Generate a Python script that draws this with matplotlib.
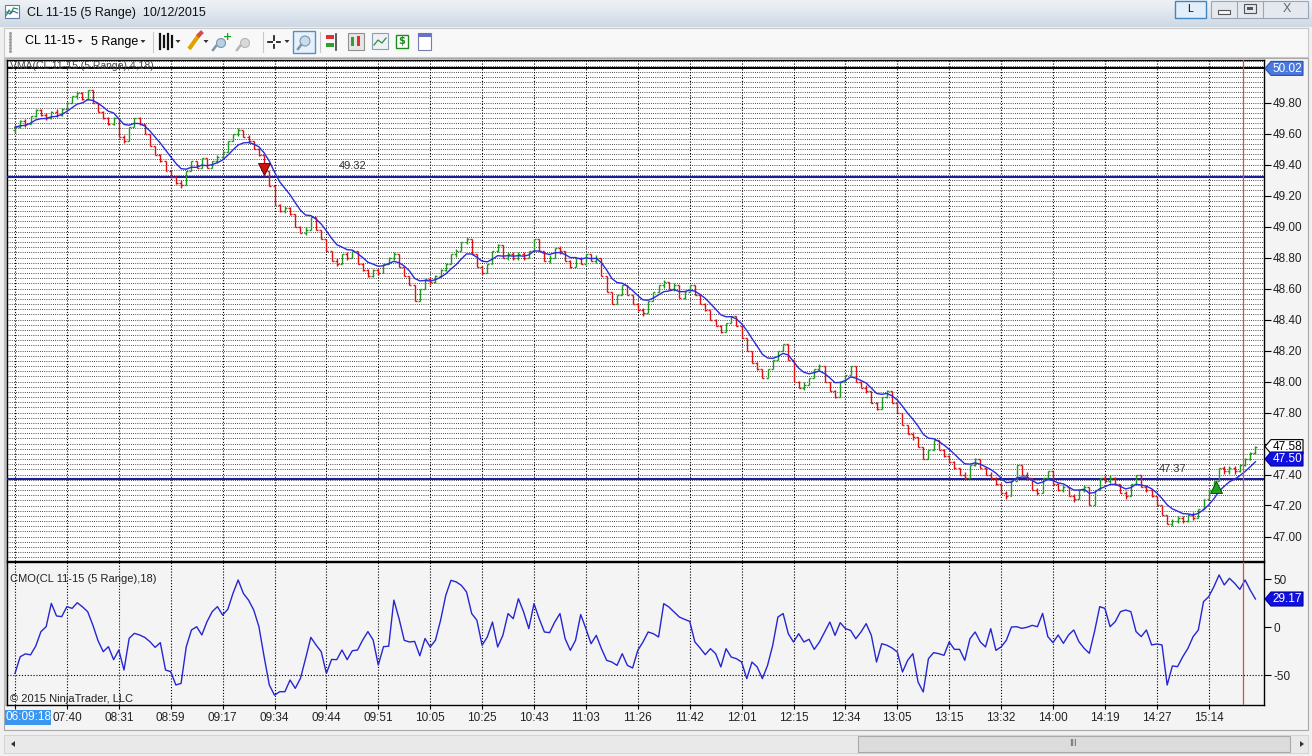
import numpy as np
import pandas as pd
import matplotlib
matplotlib.use("Agg")
import matplotlib.pyplot as plt
from matplotlib.patches import Rectangle, Polygon
from matplotlib.collections import LineCollection
from matplotlib.colors import LinearSegmentedColormap

# ---------------- data ----------------
closes = [
    49.64, 49.68, 49.66, 49.71, 49.75, 49.72, 49.70, 49.74, 49.72, 49.76,
    49.80, 49.84, 49.86, 49.82, 49.88, 49.80, 49.74, 49.70, 49.66, 49.70,
    49.58, 49.55, 49.64, 49.70, 49.66, 49.60, 49.52, 49.46, 49.42, 49.36,
    49.32, 49.28, 49.27, 49.36, 49.42, 49.38, 49.44, 49.38, 49.42, 49.45,
    49.48, 49.55, 49.60, 49.62, 49.58, 49.55, 49.50, 49.46, 49.36, 49.26,
    49.14, 49.10, 49.12, 49.08, 49.00, 48.96, 48.98, 49.06, 48.98, 48.92,
    48.84, 48.78, 48.76, 48.82, 48.80, 48.84, 48.76, 48.72, 48.68, 48.72,
    48.70, 48.76, 48.80, 48.82, 48.74, 48.68, 48.62, 48.52, 48.60, 48.66,
    48.64, 48.68, 48.72, 48.76, 48.82, 48.84, 48.90, 48.92, 48.82, 48.74,
    48.70, 48.76, 48.84, 48.88, 48.80, 48.82, 48.80, 48.82, 48.80, 48.84,
    48.92, 48.84, 48.78, 48.80, 48.86, 48.84, 48.78, 48.74, 48.80, 48.76,
    48.82, 48.78, 48.80, 48.68, 48.58, 48.50, 48.56, 48.62, 48.56, 48.50,
    48.46, 48.44, 48.52, 48.58, 48.62, 48.64, 48.60, 48.62, 48.54, 48.58,
    48.62, 48.56, 48.50, 48.46, 48.40, 48.36, 48.32, 48.38, 48.42, 48.36,
    48.28, 48.20, 48.12, 48.08, 48.02, 48.08, 48.14, 48.20, 48.24, 48.14,
    48.00, 47.96, 47.98, 48.02, 48.08, 48.10, 48.00, 47.94, 47.90, 48.00,
    48.04, 48.10, 48.00, 47.96, 47.94, 47.86, 47.82, 47.90, 47.94, 47.86,
    47.80, 47.72, 47.66, 47.64, 47.58, 47.50, 47.56, 47.62, 47.56, 47.52,
    47.48, 47.44, 47.40, 47.38, 47.46, 47.50, 47.44, 47.40, 47.38, 47.34,
    47.28, 47.26, 47.36, 47.46, 47.40, 47.38, 47.30, 47.28, 47.38, 47.42,
    47.34, 47.30, 47.32, 47.26, 47.24, 47.30, 47.32, 47.20, 47.30, 47.38,
    47.36, 47.38, 47.34, 47.28, 47.26, 47.34, 47.40, 47.32, 47.30, 47.26,
    47.20, 47.14, 47.08, 47.10, 47.12, 47.10, 47.14, 47.12, 47.18, 47.24,
    47.30, 47.36, 47.44, 47.42, 47.44, 47.42, 47.46, 47.50, 47.54, 47.58,
]
first_open = 49.62

cmo = [
    -48.3, -31.0, -28.0, -29.0, -19.8, -4.8, 0.3, 24.6, 11.5, 10.8,
    21.2, 19.4, 25.3, 21.0, 16.0, 2.0, -14.2, -25.7, -20.5, -34.0,
    -24.0, -44.8, -11.8, -6.6, -8.3, -10.8, -15.3, -21.2, -16.3, -44.8,
    -46.5, -60.4, -58.7, -20.5, -3.1, 0.3, -8.3, 5.6, 16.0, 21.2,
    12.5, 18.4, 35.0, 49.0, 35.0, 28.0, 17.7, 0.3, -31.0, -60.4,
    -71.0, -67.4, -67.4, -55.2, -63.9, -53.5, -32.6, -10.8, -18.7, -25.7,
    -48.3, -33.8, -34.0, -24.0, -34.0, -24.7, -24.0, -13.5, -4.8, -13.5,
    -39.6, -20.5, -20.0, 28.0, 8.7, -13.9, -15.6, -15.0, -30.0, -12.0,
    -20.8, -13.9, 7.0, 33.0, 48.6, 47.0, 43.4, 36.5, 14.0, 7.0,
    -19.0, -10.4, 5.2, -20.8, -8.7, 14.0, 8.7, 29.5, 15.6, -1.7,
    24.3, 8.7, -5.2, -5.9, 5.2, 14.0, -12.2, -24.3, -13.9, 13.0,
    -1.7, -17.4, -8.7, -22.6, -34.7, -36.5, -40.0, -27.8, -40.0, -42.7,
    -24.3, -15.6, -5.2, -7.0, -10.4, 24.3, 20.8, 15.6, 10.4, 8.0,
    5.9, -15.6, -21.9, -28.8, -22.6, -27.8, -41.6, -22.6, -31.3, -33.0,
    -36.5, -53.8, -36.5, -41.6, -53.8, -40.0, -19.0, 10.4, 14.0, -7.0,
    -15.6, -7.0, -15.6, -12.8, -23.3, -15.6, -5.2, 5.2, -8.7, 4.5,
    -1.7, -3.5, -12.2, -5.2, 3.5, -8.7, -36.5, -17.4, -19.0, -21.9,
    -26.0, -46.9, -34.7, -27.8, -57.3, -67.7, -33.0, -26.7, -27.8, -29.5,
    -15.6, -23.3, -23.3, -34.7, -12.2, -5.2, -15.6, -20.8, -1.7, -24.3,
    -20.8, -13.9, 0.0, 0.3, -1.4, -0.3, 1.7, 0.3, 14.2, -10.0,
    -16.3, -8.3, -17.0, -8.3, -3.1, -15.3, -22.2, -27.4, -4.8, 21.2,
    19.4, 0.3, 5.6, 16.0, 17.7, 16.0, -4.8, -10.0, -3.1, -18.7,
    -17.7, -18.7, -60.4, -40.6, -41.3, -31.0, -22.2, -10.0, -3.1, 26.4,
    31.6, 42.0, 54.2, 43.8, 50.7, 45.5, 39.2, 49.0, 38.5, 29.17,
]

time_labels = ["06:09:18", "07:40", "08:31", "08:59", "09:17", "09:34", "09:44",
               "09:51", "10:05", "10:25", "10:43", "11:03", "11:26", "11:42",
               "12:01", "12:15", "12:34", "13:05", "13:15", "13:32", "14:00",
               "14:19", "14:27", "15:14"]
label_step = 10
price_ticks = [47.00, 47.20, 47.40, 47.60, 47.80, 48.00, 48.20, 48.40,
               48.60, 48.80, 49.00, 49.20, 49.40, 49.60, 49.80]
cmo_ticks = [50, 0, -50]
hline_levels = [49.32, 47.37]
top_level = 50.02
last_price = 47.58
vma_last = 47.50
cmo_last = 29.17
down_signal = (48, 49.37)
up_signal = (231.5, 47.32)
cursor_bar = 236.6

# ---------------- layout helpers ----------------
W, H = 1312, 756
FONT = "Liberation Sans"
UI = "Liberation Sans"
BAR_PX = 5.19
X0 = 15.0

fig = plt.figure(figsize=(W / 100, H / 100), dpi=100)
fig.patch.set_facecolor("#f0f0f0")

scr = fig.add_axes([0, 0, 1, 1], label="screen")
scr.set_zorder(0)
scr.axis("off")

# title bar gradient
cm_title = LinearSegmentedColormap.from_list("tb", ["#eef2f7", "#cfd9e4"])
scr.imshow(np.linspace(0, 1, 40)[:, None], cmap=cm_title, extent=(0, W, 27, 0),
           aspect="auto", zorder=0)
scr.set_xlim(0, W)
scr.set_ylim(H, 0)

# title icon
scr.add_patch(Rectangle((5, 5), 14, 13, fc="#ffffff", ec="#5a7fa8", lw=0.8, zorder=2))
scr.plot([6.5, 9, 11, 13.5, 17.5], [15, 10, 13, 8, 9], color="#2e8b57", lw=0.9, zorder=3)
scr.plot([6.5, 10, 13, 17.5], [12, 14, 11, 13], color="#3060c0", lw=0.8, zorder=3)
scr.text(27, 13, "CL 11-15 (5 Range)  10/12/2015", fontsize=9, family=UI,
         va="center", ha="left", color="#111111", zorder=3)

# window buttons
scr.add_patch(Rectangle((1175, 1), 31, 17, fc="#e2effa", ec="#3f86c2", lw=1.0, zorder=2))
scr.text(1190.5, 9.5, "L", fontsize=7.5, family=UI, ha="center", va="center", zorder=3)
scr.add_patch(Rectangle((1211, 1), 97, 17, fc="#e4e9ef", ec="#9aa6b3", lw=0.8, zorder=2))
scr.plot([1237, 1237], [1, 18], color="#9aa6b3", lw=0.8, zorder=3)
scr.plot([1263, 1263], [1, 18], color="#9aa6b3", lw=0.8, zorder=3)
scr.add_patch(Rectangle((1218, 10), 12, 4, fc="#f6f6f6", ec="#555555", lw=0.8, zorder=3))
scr.add_patch(Rectangle((1244, 4), 12, 9, fc="none", ec="#555555", lw=0.8, zorder=3))
scr.add_patch(Rectangle((1247, 7), 6, 3, fc="#555555", ec="none", zorder=3))
scr.text(1287, 9.5, "X", fontsize=9, family=UI, ha="center", va="center",
         color="#666666", zorder=3)

# toolbar
scr.add_patch(Rectangle((4, 28), 1304, 29, fc="#f8f8f8", ec="#c9c9c9", lw=0.8, zorder=1))
for yy in range(33, 53, 3):
    scr.plot([10], [yy], marker="s", ms=1, color="#9a9a9a", zorder=3)
scr.text(25, 41.5, "CL 11-15", fontsize=9, family=UI, va="center", zorder=3)
scr.text(91, 41.5, "5 Range", fontsize=9, family=UI, va="center", zorder=3)


def caret(x, y):
    scr.add_patch(Polygon([(x - 2.5, y - 1.5), (x + 2.5, y - 1.5), (x, y + 1.5)],
                          closed=True, fc="#333333", ec="none", zorder=3))


caret(80, 41.5)
caret(143, 41.5)
for sx in (153, 263, 320):
    scr.plot([sx, sx], [32, 52], color="#c8c8c8", lw=0.8, zorder=3)
# bar-type icon
for k, xx in enumerate([160, 164, 168, 172]):
    scr.plot([xx, xx], [34 + (k % 2) * 2, 49 - (k % 2) * 2], color="#111111", lw=1.6, zorder=3)
caret(178, 41.5)
# pencil
scr.plot([189, 199], [49, 35], color="#e0a400", lw=3.0, zorder=3, solid_capstyle="butt")
scr.plot([199, 201], [35, 33], color="#d05050", lw=3.0, zorder=3)
caret(206, 41.5)
# magnifier plus
scr.add_patch(plt.Circle((221, 43), 4.5, fc="#b9cfe6", ec="#7f95ab", lw=0.8, zorder=3))
scr.plot([216, 213], [46, 50], color="#7f95ab", lw=1.8, zorder=3)
scr.text(227, 36.5, "+", fontsize=8, color="#1da31d", ha="center", va="center",
         weight="bold", zorder=4)
scr.add_patch(plt.Circle((245, 43), 4.5, fc="#d9d9d9", ec="#b5b5b5", lw=0.8, zorder=3))
scr.plot([240, 237], [46, 50], color="#b5b5b5", lw=1.8, zorder=3)
# crosshair
scr.plot([268, 280], [42, 42], color="#111111", lw=1.2, zorder=3)
scr.plot([274, 274], [36, 48], color="#111111", lw=1.2, zorder=3)
scr.add_patch(Rectangle((272.5, 40.5), 3, 3, fc="#f8f8f8", ec="none", zorder=4))
caret(287, 41.5)
# zoom box
scr.add_patch(Rectangle((293, 31), 22, 22, fc="#e8f1fb", ec="#4f8fd0", lw=1.0, zorder=3))
scr.add_patch(plt.Circle((305, 41), 5, fc="#c9dcef", ec="#7f95ab", lw=0.8, zorder=4))
scr.plot([301, 298], [45, 49], color="#7f95ab", lw=1.8, zorder=4)
# other icons
scr.add_patch(Rectangle((326, 35), 8, 4, fc="#e03030", ec="none", zorder=3))
scr.add_patch(Rectangle((326, 43), 8, 4, fc="#30a030", ec="none", zorder=3))
scr.plot([336, 336], [34, 50], color="#404040", lw=1.2, zorder=3)
scr.add_patch(Rectangle((348, 33), 16, 17, fc="#e6e6e6", ec="#909090", lw=0.8, zorder=3))
scr.add_patch(Rectangle((351, 37), 3, 9, fc="#30a030", ec="none", zorder=4))
scr.add_patch(Rectangle((357, 36), 3, 10, fc="#e03030", ec="none", zorder=4))
scr.add_patch(Rectangle((372, 33), 16, 16, fc="#eef2f6", ec="#8aa0b5", lw=0.8, zorder=3))
scr.plot([374, 378, 382, 386], [45, 40, 43, 38], color="#3a8a3a", lw=0.9, zorder=4)
scr.add_patch(Rectangle((396, 35), 12, 13, fc="#ffffff", ec="#1d8a1d", lw=1.0, zorder=3))
scr.text(402, 41.5, "$", fontsize=7, color="#1d8a1d", ha="center", va="center",
         weight="bold", zorder=4)
scr.add_patch(Rectangle((418, 33), 13, 17, fc="#ffffff", ec="#7a7ab0", lw=0.8, zorder=3))
scr.add_patch(Rectangle((418, 33), 13, 4, fc="#6a70c8", ec="none", zorder=4))

# chart frame / backgrounds
scr.add_patch(Rectangle((4, 58), 1304, 672, fc="#f4f4f4", ec="#a8a8a8", lw=0.8, zorder=1))
scr.add_patch(Rectangle((4, 58), 3, 648, fc="#bdbdbd", ec="none", zorder=2))

# scrollbar
scr.add_patch(Rectangle((4, 735), 1304, 18, fc="#e9e9e9", ec="#d0d0d0", lw=0.6, zorder=1))
scr.add_patch(Rectangle((858, 736), 432, 16, fc="#dcdcdc", ec="#a9a9a9", lw=0.8, zorder=2))
scr.text(1073, 744, "III", fontsize=6, ha="center", va="center", color="#555555", zorder=3)
scr.add_patch(Polygon([(11, 744), (15, 741), (15, 747)], closed=True, fc="#333333", zorder=3))
scr.add_patch(Polygon([(1304, 744), (1300, 741), (1300, 747)], closed=True, fc="#333333", zorder=3))

# ---------------- price panel ----------------
n = len(closes)
xs = np.arange(n)
ax = fig.add_axes([7 / W, 1 - 561 / H, 1257 / W, 501 / H], label="price")
ax.set_zorder(2)
ax.set_facecolor("#ffffff")
xlim = ((7 - X0) / BAR_PX, (1264 - X0) / BAR_PX)
ax.set_xlim(*xlim)
p_top = 49.80 + (102.5 - 60) / 155.0
p_bot = 49.80 - (561 - 102.5) / 155.0
ax.set_ylim(p_bot, p_top)

grid_style = dict(color="#111111", lw=0.6, linestyle=(0, (1, 1.6)), zorder=1)
step = 0.2 / 6
k0 = int(np.floor((p_bot - 49.80) / step))
k1 = int(np.ceil((p_top - 49.80) / step))
for k in range(k0, k1 + 1):
    ax.axhline(49.80 + k * step, **grid_style)
grid_bars = list(range(0, label_step * len(time_labels), label_step))
for gb in grid_bars:
    ax.axvline(gb, color="#000000", lw=0.8, linestyle=(0, (1, 1.6)), zorder=1)

# horizontal drawn lines
ax.axhline(top_level, color="#000000", lw=1.4, zorder=3)
for lv in hline_levels:
    ax.axhline(lv, color="#1c1c9c", lw=1.5, zorder=3)
ax.text(65, hline_levels[0] + 0.035, f"{hline_levels[0]:.2f}", fontsize=8, family=FONT,
        ha="center", va="bottom", color="#333333", zorder=4)
ax.text(223, hline_levels[1] + 0.035, f"{hline_levels[1]:.2f}", fontsize=8, family=FONT,
        ha="center", va="bottom", color="#333333", zorder=4)

# OHLC range bars
opens = [first_open] + closes[:-1]
segs, cols = [], []
for i, (o, c) in enumerate(zip(opens, closes)):
    lo, hi = min(o, c), max(o, c)
    if hi - lo < 0.05:
        pad = (0.05 - (hi - lo)) / 2
        lo, hi = lo - pad, hi + pad
    col = "#1f9a1f" if c >= o else "#e01010"
    segs += [[(i, lo), (i, hi)], [(i - 0.38, o), (i, o)], [(i, c), (i + 0.38, c)]]
    cols += [col] * 3
ax.add_collection(LineCollection(segs, colors=cols, linewidths=1.0, zorder=5))

# VMA
vma = pd.Series(closes).ewm(span=7, adjust=False).mean()
ax.plot(xs, vma.values, color="#2a2ae0", lw=1.0, zorder=6)

# signals
ax.plot([down_signal[0]], [down_signal[1]], marker="v", ms=8, color="#d01010",
        mec="#400000", mew=0.6, zorder=7)
ax.plot([up_signal[0]], [up_signal[1]], marker="^", ms=8, color="#20a020",
        mec="#004000", mew=0.6, zorder=7)

ax.axvline(cursor_bar, color="#d05050", lw=0.9, zorder=6)

ax.text(0.002, (561 - 66) / 501, "VMA(CL 11-15 (5 Range),4,18)", transform=ax.transAxes,
        fontsize=7.5, family=FONT, color="#444444", va="center", ha="left", zorder=8)

ax.yaxis.tick_right()
ax.set_yticks(price_ticks)
ax.set_yticklabels([f"{t:.2f}" for t in price_ticks], family=FONT, fontsize=8.5,
                   color="#222222")
ax.tick_params(axis="y", direction="out", length=5, width=0.8, pad=1.5)
ax.set_xticks([])
for s in ax.spines.values():
    s.set_color("#000000")
    s.set_linewidth(1.0)

# ---------------- CMO panel ----------------
ac = fig.add_axes([7 / W, 1 - 705 / H, 1257 / W, 143 / H], label="cmo")
ac.set_zorder(2)
ac.set_facecolor("#f4f4f4")
ac.set_xlim(*xlim)
ac.set_ylim((627 - 705) / 0.96, (627 - 562) / 0.96)
for gb in grid_bars:
    ac.axvline(gb, color="#000000", lw=0.8, linestyle=(0, (1, 1.6)), zorder=1)
ac.axhline(-50, color="#000000", lw=0.8, linestyle=(0, (1, 1.6)), zorder=1)
ac.plot(xs, cmo, color="#2626d2", lw=1.0, zorder=4)
ac.axvline(cursor_bar, color="#d05050", lw=0.9, zorder=5)
ac.text(0.002, (705 - 579) / 143, "CMO(CL 11-15 (5 Range),18)", transform=ac.transAxes,
        fontsize=8, family=FONT, color="#222222", va="center", ha="left", zorder=6)
ac.text(0.002, (705 - 699) / 143, "\u00a9 2015 NinjaTrader, LLC", transform=ac.transAxes,
        fontsize=8, family=FONT, color="#222222", va="center", ha="left", zorder=6)
ac.yaxis.tick_right()
ac.set_yticks(cmo_ticks)
ac.set_yticklabels([str(t) for t in cmo_ticks], family=FONT, fontsize=8.5, color="#222222")
ac.tick_params(axis="y", direction="out", length=5, width=0.8, pad=1.5)
ac.set_xticks(grid_bars)
ac.set_xticklabels([""] + time_labels[1:], family=FONT, fontsize=8.5, color="#222222")
ac.tick_params(axis="x", direction="out", length=3, width=0.8, pad=2)
for s in ac.spines.values():
    s.set_color("#000000")
    s.set_linewidth(1.0)

# ---------------- overlay: value flags ----------------
ov = fig.add_axes([0, 0, 1, 1], label="overlay")
ov.set_zorder(10)
ov.patch.set_alpha(0)
ov.axis("off")
ov.set_xlim(0, W)
ov.set_ylim(H, 0)


def flag(y, text, fc, tc, ec):
    x0, x1, h = 1265, 1303, 7
    ov.add_patch(Polygon([(x0, y), (x0 + 6, y - h), (x1, y - h), (x1, y + h), (x0 + 6, y + h)],
                         closed=True, fc=fc, ec=ec, lw=0.8, zorder=2))
    ov.text((x0 + 6 + x1) / 2 + 0.5, y + 0.5, text, fontsize=8.5, family=FONT, color=tc,
            ha="center", va="center", zorder=3)


def price_px(p):
    return 102.5 + (49.80 - p) * 155.0


flag(price_px(top_level), f"{top_level:.2f}", "#4a78dc", "#ffffff", "#2c4fa8")
flag(price_px(last_price), f"{last_price:.2f}", "#ffffff", "#000000", "#000000")
flag(price_px(vma_last), f"{vma_last:.2f}", "#1010e0", "#ffffff", "#0000a0")
flag(627 - cmo_last * 0.96, f"{cmo_last:.2f}", "#1010e0", "#ffffff", "#0000a0")

# highlighted first time label
ov.add_patch(Rectangle((5, 710), 46, 15, fc="#3b96f0", ec="none", zorder=2))
ov.text(28, 717.5, time_labels[0], fontsize=8.5, family=FONT, color="#ffffff",
        ha="center", va="center", zorder=3)

fig.savefig("out.png", dpi=100, facecolor=fig.get_facecolor())
